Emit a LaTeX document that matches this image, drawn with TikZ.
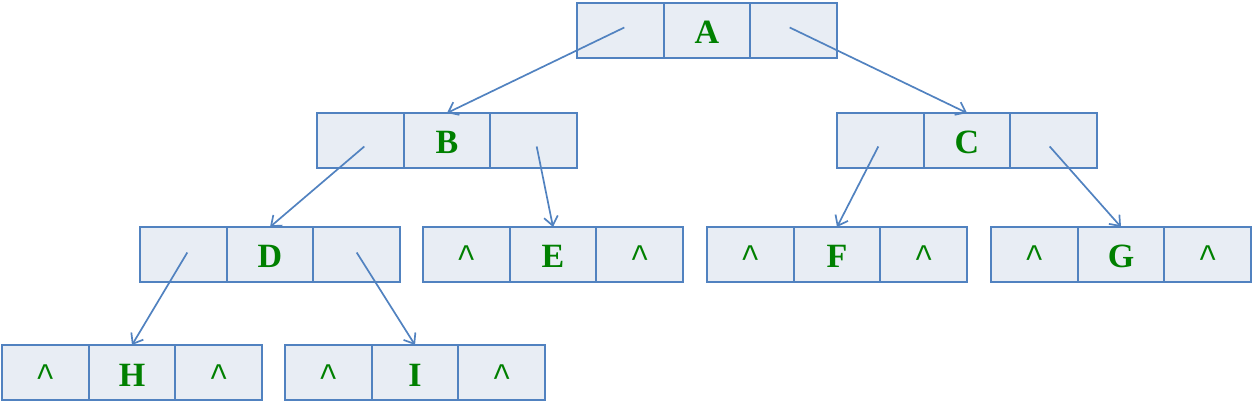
\documentclass[tikz,border=0pt]{standalone}
\usepackage{fontspec}
\setmainfont{Liberation Serif}
\newfontfamily\caretfont{Liberation Mono}
\usetikzlibrary{arrows.meta}
\definecolor{cellfill}{HTML}{E8EDF4}
\definecolor{cellline}{HTML}{5182C0}
\definecolor{keygreen}{HTML}{008000}

\begin{document}
\begin{tikzpicture}[x=1pt,y=-1pt,
    key/.style={font=\fontsize{34}{36}\selectfont\bfseries, text height=27pt, text depth=0pt},
    nil/.style={font=\caretfont\fontsize{33}{34}\selectfont, text height=27pt, text depth=0pt}]
    \useasboundingbox (0,0) rectangle (1253,414);
    \begin{scope}[every node/.style={rectangle, draw=cellline, fill=cellfill, line width=2pt,
        minimum width=86.7pt, minimum height=55pt, inner sep=0pt, outer sep=0pt, text=keygreen}]
        % level 0
        \node (Al) at (620.3,30.5) {};
        \node[key] (A) at (707,30.5) {A};
        \node (Ar) at (793.7,30.5) {};
        % level 1
        \node (Bl) at (360.3,140.5) {};
        \node[key] (B) at (447,140.5) {B};
        \node (Br) at (533.7,140.5) {};
        \node (Cl) at (880.3,140.5) {};
        \node[key] (C) at (967,140.5) {C};
        \node (Cr) at (1053.7,140.5) {};
        % level 2
        \node (Dl) at (183.3,254.5) {};
        \node[key] (D) at (270,254.5) {D};
        \node (Dr) at (356.7,254.5) {};
        \node[nil] (El) at (466.3,254.5) {\textasciicircum};
        \node[key] (E) at (553,254.5) {E};
        \node[nil] (Er) at (639.7,254.5) {\textasciicircum};
        \node[nil] (Fl) at (750.3,254.5) {\textasciicircum};
        \node[key] (F) at (837,254.5) {F};
        \node[nil] (Fr) at (923.7,254.5) {\textasciicircum};
        \node[nil] (Gl) at (1034.3,254.5) {\textasciicircum};
        \node[key] (G) at (1121,254.5) {G};
        \node[nil] (Gr) at (1207.7,254.5) {\textasciicircum};
        % level 3
        \node[nil] (Hl) at (45.3,372.5) {\textasciicircum};
        \node[key] (H) at (132,372.5) {H};
        \node[nil] (Hr) at (218.7,372.5) {\textasciicircum};
        \node[nil] (Il) at (328.3,372.5) {\textasciicircum};
        \node[key] (I) at (415,372.5) {I};
        \node[nil] (Ir) at (501.7,372.5) {\textasciicircum};
    \end{scope}
    \begin{scope}[every path/.style={draw=cellline, line width=1.7pt, -{Straight Barb[length=9pt,width=14pt]}}]
        \draw ([shift={(4,-3)}]Al.center) -- (B.north);
        \draw ([shift={(-4,-3)}]Ar.center) -- (C.north);
        \draw ([shift={(4,6)}]Bl.center) -- (D.north);
        \draw ([shift={(3,6)}]Br.center) -- (E.north);
        \draw ([shift={(-2,6)}]Cl.center) -- (F.north);
        \draw ([shift={(-4,6)}]Cr.center) -- (G.north);
        \draw ([shift={(4,-2)}]Dl.center) -- (H.north);
        \draw ([shift={(0,-2)}]Dr.center) -- (I.north);
    \end{scope}
\end{tikzpicture}
\end{document}
